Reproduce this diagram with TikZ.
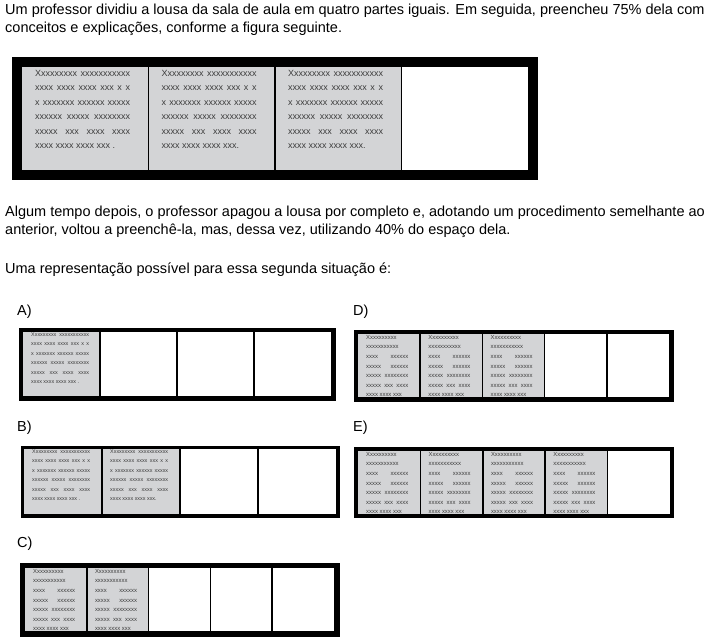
\documentclass[tikz,border=0pt]{standalone}
\usepackage{fontspec}
\setmainfont{Liberation Sans}
\definecolor{panelgray}{RGB}{211,212,214}
\definecolor{inkgray}{RGB}{60,60,60}

\newcommand{\notessix}[2]{%
  \makebox[#1][s]{Xxxxxxxxx xxxxxxxxxxx}\\
  \makebox[#1][s]{xxxx xxxx xxxx xxx x x}\\
  \makebox[#1][s]{x xxxxxxx xxxxxx xxxxx}\\
  \makebox[#1][s]{xxxxxx xxxxx xxxxxxxx}\\
  \makebox[#1][s]{xxxxx xxx xxxx xxxx}\\
  xxxx xxxx xxxx xxx#2}
\newcommand{\notesseven}[1]{%
  Xxxxxxxxxx\\
  xxxxxxxxxxx\\
  \makebox[#1][s]{xxxx xxxxxx}\\
  \makebox[#1][s]{xxxxx xxxxxx}\\
  \makebox[#1][s]{xxxxx xxxxxxxx}\\
  \makebox[#1][s]{xxxxx xxx xxxx}\\
  xxxx xxxx xxx}

\newcommand{\lousa}[9]{%
  \fill (#1-#5,#2-#5) rectangle (#3+#5,#4+#5);
  \fill[white] (#1,#2) rectangle (#3,#4);
  \pgfmathsetmacro{\pw}{(#3-#1)/#6}
  \foreach \i in {1,...,#7} {
    \begin{scope}
      \clip (#1+\i*\pw-\pw,#2) rectangle (#1+\i*\pw,#4);
      \fill[panelgray] (#1+\i*\pw-\pw,#2) rectangle (#1+\i*\pw,#4);
      \node[#8] (txt#1-\i) at (#1+\i*\pw-\pw,#2) {#9};
    \end{scope}
  }
  \foreach \i in {2,...,#6}
    \draw[divider] (#1+\i*\pw-\pw,#2) -- (#1+\i*\pw-\pw,#4);
}

\begin{document}
\begin{tikzpicture}[x=1pt, y=-1pt,
    prose/.style={anchor=base west, inner sep=0, font=\fontsize{14.5}{17}\selectfont},
    notes/.style={anchor=north west, inner sep=0, text=inkgray, align=left},
    notes main/.style={notes, xshift=13pt, yshift=-3pt, font=\fontsize{9}{14.5}\selectfont},
    notes six/.style={notes, xshift=8pt, yshift=-0.5pt, font=\fontsize{5.4}{9.4}\selectfont},
    notes seven/.style={notes, xshift=8pt, yshift=-1pt, font=\fontsize{5.9}{9.6}\selectfont},
    divider/.style={line width=1.6pt}]
    \useasboundingbox[fill=white] (0,0) rectangle (712,640);
    \node[prose] (q1) at (5,14) {Um professor dividiu a lousa da sala de aula em quatro partes iguais. Em seguida, preencheu 75\% dela com};
    \node[prose] (q2) at (5,32) {conceitos e explicações, conforme a figura seguinte.};
    \node[prose] (q3) at (5,216) {Algum tempo depois, o professor apagou a lousa por completo e, adotando um procedimento semelhante ao};
    \node[prose] (q4) at (5,234) {anterior, voltou a preenchê-la, mas, dessa vez, utilizando 40\% do espaço dela.};
    \node[prose] (q5) at (5,273) {Uma representação possível para essa segunda situação é:};
    \lousa{22}{67}{528}{170}{10}{4}{3}{notes main}{\notessix{95pt}{\ifnum\i=1\ .\else.\fi}}
    \node[prose] (labA) at (17,315) {A)};
    \lousa{23}{332}{331}{396}{4.5}{4}{1}{notes six}{\notessix{58pt}{\ .}}
    \node[prose] (labB) at (17,431.5) {B)};
    \lousa{24}{449}{336}{514}{3.5}{4}{2}{notes six}{\notessix{58pt}{\ifnum\i=1\ .\else.\fi}}
    \node[prose] (labC) at (17,547) {C)};
    \lousa{25}{568}{334}{631}{5.5}{5}{2}{notes seven}{\notesseven{42pt}}
    \node[prose] (labD) at (353,315) {D)};
    \lousa{358}{334}{669}{397}{4.5}{5}{3}{notes seven}{\notesseven{42pt}}
    \node[prose] (labE) at (353,431.5) {E)};
    \lousa{358}{451}{670}{514}{4}{5}{4}{notes seven}{\notesseven{42pt}}
\end{tikzpicture}
\end{document}
